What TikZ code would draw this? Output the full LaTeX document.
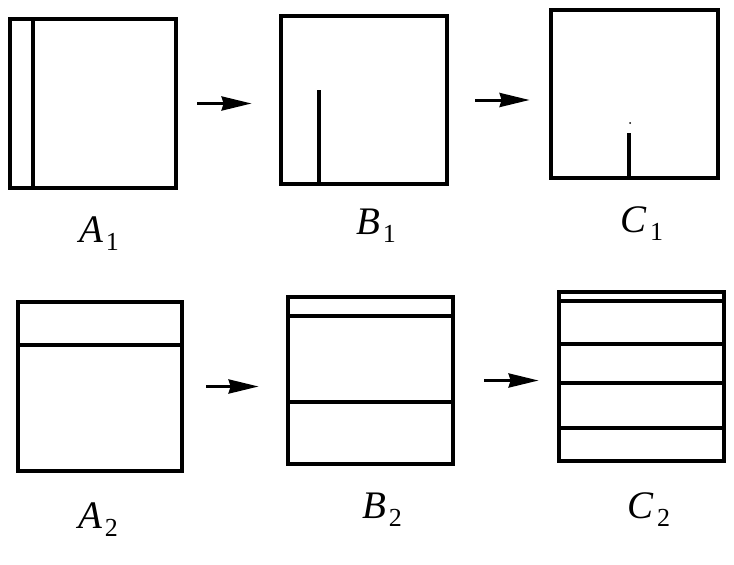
\documentclass[tikz,border=0pt]{standalone}
\usepackage{fontspec}
\setmainfont{Liberation Serif}
\usetikzlibrary{arrows.meta}

\newcommand{\lbl}[2]{\textit{#1}\kern3pt\raisebox{-8pt}{\fontsize{26}{28}\selectfont #2}}

\tikzset{
  room/.style={draw,line width=4.8pt,inner sep=0pt,minimum width=#1},
  wall/.style={line width=4.5pt},
  conn/.style={line width=3pt,-{Stealth[length=30pt,width=14pt,inset=2pt]}},
  tag/.style={anchor=base,inner sep=0pt,font=\fontsize{39}{42}\selectfont}
}

\begin{document}
\begin{tikzpicture}[x=1pt,y=-1pt]
            \useasboundingbox (0,0) rectangle (734,565);
            % upper row
            \node[room=166pt,minimum height=169pt] (A1) at (93,103.5) {};
            \node[room=166pt,minimum height=168pt] (B1) at (364,100) {};
            \node[room=167pt,minimum height=168pt] (C1) at (634.5,94) {};
            \draw[wall] (33,19)--(33,188);
            \draw[wall] (319,90)--(319,184);
            \draw[wall] (629,133)--(629,178);
            \fill (630,123) circle (1);
            \draw[conn,shorten <=19pt,shorten >=27pt] (A1.east)--(A1.east -| B1.west);
            \draw[conn,shorten <=26pt,shorten >=19pt] (B1.east)--(B1.east -| C1.west);
            \node[tag] (lA1) at (99,242) {\lbl{A}{1}};
            \node[tag] (lB1) at (376,234) {\lbl{B}{1}};
            \node[tag] (lC1) at (642,232) {\lbl{C}{1}};
            % lower row
            \node[room=164pt,minimum height=169pt] (A2) at (100,386.5) {};
            \node[room=165pt,minimum height=167pt] (B2) at (370.5,380.5) {};
            \node[room=165pt,minimum height=169pt] (C2) at (641.5,376.5) {};
            \draw[wall] (18,345)--(182,345);
            \foreach \y in {316,402}{
                \draw[wall] (288,\y)--(453,\y);
            }
            \foreach \y in {301,344,383,428}{
                \draw[wall] (559,\y)--(724,\y);
            }
            \draw[conn,shorten <=22pt,shorten >=27pt] (A2.east)--(A2.east -| B2.west);
            \draw[conn,shorten <=29pt,shorten >=18pt] (B2.east)--(B2.east -| C2.west);
            \node[tag] (lA2) at (98,528) {\lbl{A}{2}};
            \node[tag] (lB2) at (382,518) {\lbl{B}{2}};
            \node[tag] (lC2) at (649,518) {\lbl{C}{2}};
        \end{tikzpicture}
\end{document}
